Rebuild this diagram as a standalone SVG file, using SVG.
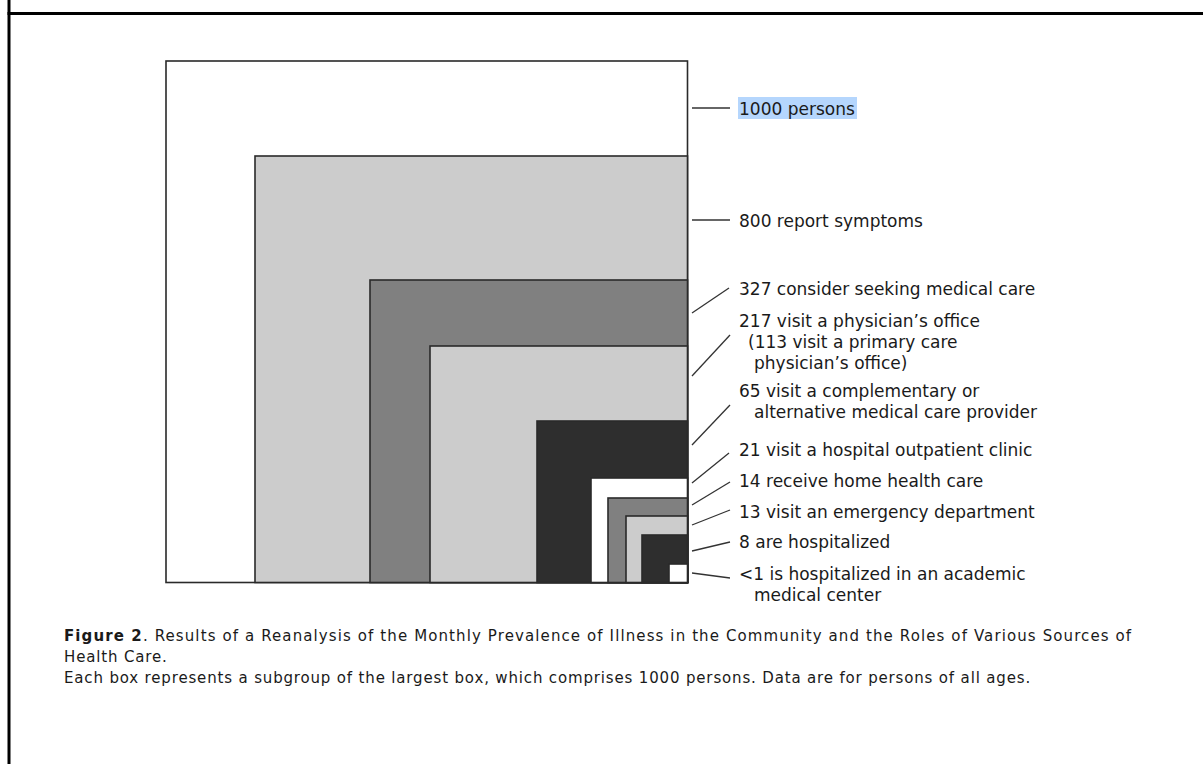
<svg xmlns="http://www.w3.org/2000/svg" width="1203" height="764" viewBox="0 0 1203 764">
<style>
.box{stroke:#2a2a2a;stroke-width:1.6}
.w{fill:#ffffff}.l{fill:#cccccc}.m{fill:#808080}.d{fill:#2e2e2e}
.lead{stroke:#333;stroke-width:1.3;fill:none}
.lab{font-family:"DejaVu Sans",sans-serif;font-size:17px;fill:#1a1a1a}
.cap{font-family:"DejaVu Sans",sans-serif;font-size:15px;letter-spacing:0.85px;fill:#1a1a1a}
</style>
<rect width="1203" height="764" fill="#ffffff"/>
<g id="frame" stroke="#000" stroke-width="3" fill="none">
<line x1="9" y1="0" x2="9" y2="764"/>
<line x1="7.5" y1="13.5" x2="1203" y2="13.5"/>
</g>
<g id="box-1000"><rect class="box w" x="166" y="61" width="521.5" height="521.5"/></g>
<g id="box-800"><rect class="box l" x="255" y="156" width="432.5" height="426.5"/></g>
<g id="box-327"><rect class="box m" x="370" y="280" width="317.5" height="302.5"/></g>
<g id="box-217"><rect class="box l" x="430" y="346" width="257.5" height="236.5"/></g>
<g id="box-65"><rect class="box d" x="537" y="421" width="150.5" height="161.5"/></g>
<g id="box-21"><rect class="box w" x="591" y="478" width="96.5" height="104.5"/></g>
<g id="box-14"><rect class="box m" x="608" y="498" width="79.5" height="84.5"/></g>
<g id="box-13"><rect class="box l" x="626" y="516" width="61.5" height="66.5"/></g>
<g id="box-8"><rect class="box d" x="642" y="535" width="45.5" height="47.5"/></g>
<g id="box-1"><rect class="box w" x="669" y="564" width="18.5" height="18.5"/></g>
<g id="connectors">
<line class="lead" x1="692" y1="108" x2="730" y2="108"/>
<line class="lead" x1="692" y1="220" x2="730" y2="220"/>
<line class="lead" x1="692" y1="313" x2="729" y2="288"/>
<line class="lead" x1="692" y1="376" x2="730" y2="335"/>
<line class="lead" x1="692" y1="445" x2="730" y2="405"/>
<line class="lead" x1="692" y1="483" x2="729" y2="453"/>
<line class="lead" x1="692" y1="505" x2="730" y2="482"/>
<line class="lead" x1="692" y1="525" x2="730" y2="510"/>
<line class="lead" x1="692" y1="551" x2="730" y2="542"/>
<line class="lead" x1="692" y1="573" x2="730" y2="578"/>
</g>
<g id="labels">
<rect x="738" y="97" width="119" height="22" fill="#b5d6fd"/>
<text class="lab" x="739" y="115">1000 persons</text>
<text class="lab" x="739" y="227">800 report symptoms</text>
<text class="lab" x="739" y="295">327 consider seeking medical care</text>
<text class="lab" x="739" y="327">217 visit a physician’s office</text>
<text class="lab" x="748" y="348">(113 visit a primary care</text>
<text class="lab" x="754" y="369">physician’s office)</text>
<text class="lab" x="739" y="397">65 visit a complementary or</text>
<text class="lab" x="754" y="418">alternative medical care provider</text>
<text class="lab" x="739" y="456">21 visit a hospital outpatient clinic</text>
<text class="lab" x="739" y="487">14 receive home health care</text>
<text class="lab" x="739" y="518">13 visit an emergency department</text>
<text class="lab" x="739" y="548">8 are hospitalized</text>
<text class="lab" x="739" y="580">&lt;1 is hospitalized in an academic</text>
<text class="lab" x="754" y="601">medical center</text>
</g>
<g id="caption">
<text class="cap" x="64" y="641" textLength="1068" lengthAdjust="spacing"><tspan font-weight="bold">Figure 2</tspan>. Results of a Reanalysis of the Monthly Prevalence of Illness in the Community and the Roles of Various Sources of</text>
<text class="cap" x="64" y="662">Health Care.</text>
<text class="cap" x="64" y="683" textLength="967" lengthAdjust="spacing">Each box represents a subgroup of the largest box, which comprises 1000 persons. Data are for persons of all ages.</text>
</g>
</svg>
